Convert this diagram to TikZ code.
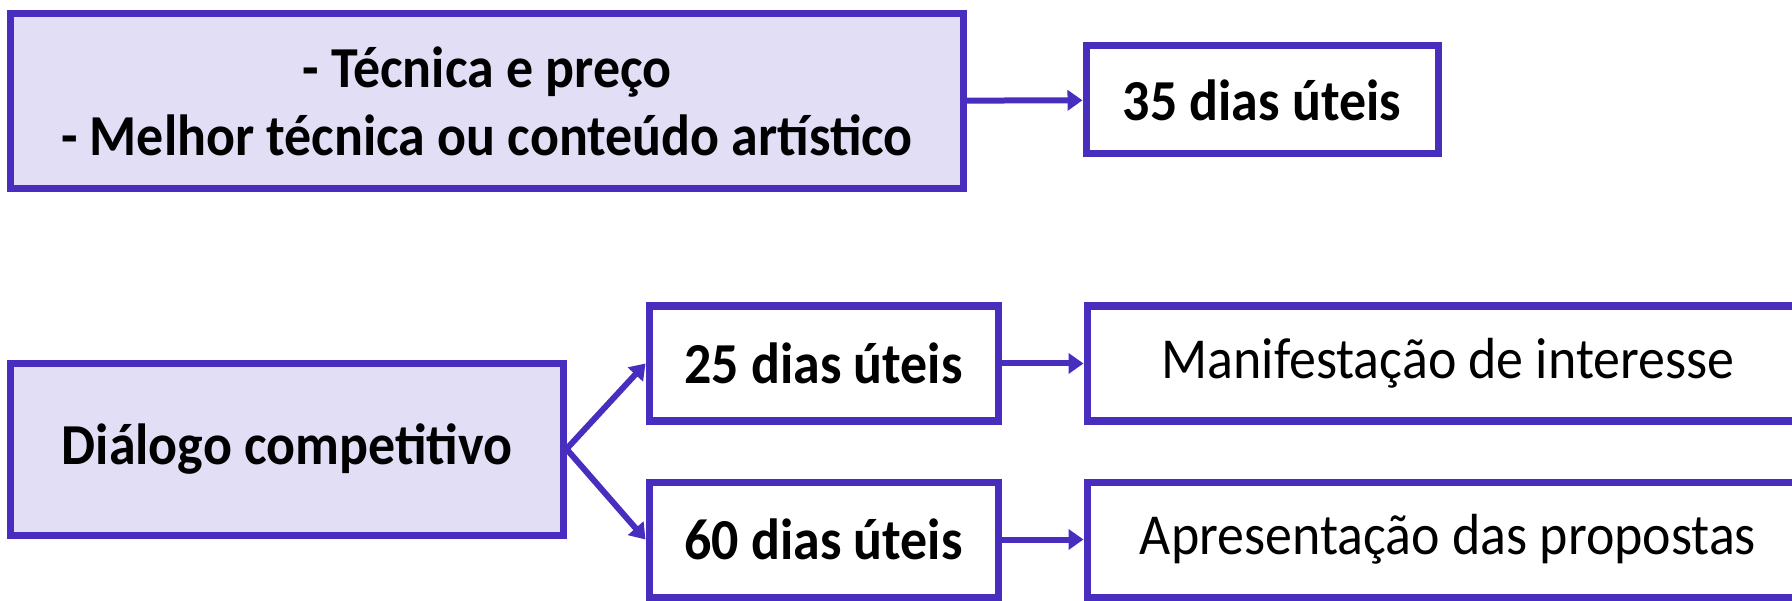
\documentclass[tikz,border=0pt]{standalone}
\usepackage{fontspec}
\setmainfont{Carlito}[FakeStretch=0.93]
\usepackage{tikz}
\usetikzlibrary{arrows.meta,positioning}
\definecolor{roxo}{RGB}{72,45,190}
\definecolor{lilas}{RGB}{225,222,245}

\begin{document}
\begin{tikzpicture}[
        caixa/.style={draw=roxo, line width=0.07cm, inner sep=0pt, align=center, font=\fontsize{16.5}{19.5}\selectfont},
        cheia/.style={caixa, fill=lilas, font=\fontsize{16.5}{19.5}\selectfont\bfseries},
        prazo/.style={caixa, fill=white, font=\fontsize{16.5}{19.5}\selectfont\bfseries},
        seta/.style={draw=roxo, line width=0.06cm, -{Triangle[length=0.15cm,width=0.2cm]}}
    ]
        \clip (0,0) rectangle (17.92,6);

        \node[cheia, minimum width=9.52cm, minimum height=1.75cm] (criterio) at (4.87,4.985) {- Técnica e preço\\- Melhor técnica ou conteúdo artístico};
        \node[prazo, minimum width=3.52cm, minimum height=1.08cm] (d35) at (12.62,5.0) {35 dias úteis};

        \node[cheia, minimum width=5.52cm, minimum height=1.72cm] (dialogo) at (2.87,1.51) {Diálogo competitivo};
        \node[prazo, minimum width=3.49cm, minimum height=1.15cm] (d25) at (8.235,2.365) {25 dias úteis};
        \node[prazo, minimum width=3.49cm, minimum height=1.15cm] (d60) at (8.235,0.605) {60 dias úteis};
        \node[caixa, minimum width=7.22cm, minimum height=1.15cm] (manif) at (14.48,2.365) {Manifestação de interesse};
        \node[caixa, minimum width=7.22cm, minimum height=1.15cm] (apres) at (14.48,0.605) {Apresentação das propostas};

        \draw[seta] (criterio) -- (d35);
        \draw[seta] (dialogo.east) -- (d25.west);
        \draw[seta] (dialogo.east) -- (d60.west);
        \draw[seta] (d25) -- (manif);
        \draw[seta] (d60) -- (apres);
    \end{tikzpicture}
\end{document}
